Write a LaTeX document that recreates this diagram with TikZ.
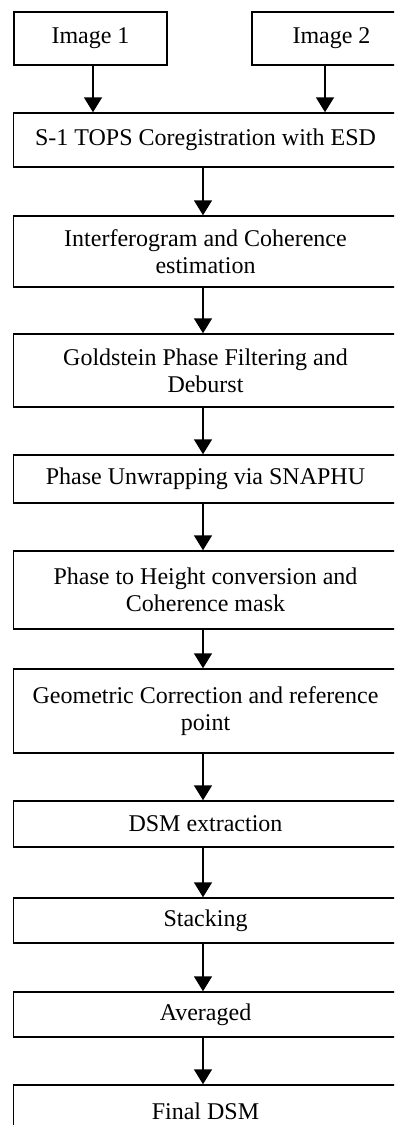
\documentclass[tikz,border=0pt]{standalone}
\usepackage{fontspec}
\setmainfont{Liberation Serif}
\usetikzlibrary{arrows.meta}
\begin{document}
\begin{tikzpicture}[x=1pt,y=-1pt,
  box/.style={draw=black,line width=1.5pt,rectangle,align=center,inner sep=0pt,
    font=\fontsize{24}{27}\selectfont},
  arr/.style={line width=1.7pt,-{Triangle[width=18pt,length=15pt]}}]
\useasboundingbox (0,0) rectangle (394,1125);
\clip (0,0) rectangle (394,1125);
\node[box,minimum width=153pt,minimum height=53pt] (img1) at (90.5,38.5) {Image 1};
\node[box,minimum width=159pt,minimum height=53pt] (img2) at (331.5,38.5) {Image 2};
\node[box,minimum width=384pt,minimum height=54pt] (s1) at (205.5,140) {S-1 TOPS Coregistration with ESD};
\node[box,minimum width=384pt,minimum height=71pt] (ifg) at (205.5,251.5) {Interferogram and Coherence\\estimation};
\node[box,minimum width=384pt,minimum height=73pt] (gold) at (205.5,370.5) {Goldstein Phase Filtering and\\Deburst};
\node[box,minimum width=384pt,minimum height=48pt] (unw) at (205.5,479) {Phase Unwrapping via SNAPHU};
\node[box,minimum width=384pt,minimum height=78pt] (p2h) at (205.5,590) {Phase to Height conversion and\\Coherence mask};
\node[box,minimum width=384pt,minimum height=84pt] (geo) at (205.5,711) {Geometric Correction and reference\\point};
\node[box,minimum width=384pt,minimum height=46pt] (dsm) at (205.5,824) {DSM extraction};
\node[box,minimum width=384pt,minimum height=45pt] (stk) at (205.5,920.5) {Stacking};
\node[box,minimum width=384pt,minimum height=45pt] (avg) at (205.5,1014.5) {Averaged};
\node[box,minimum width=384pt,minimum height=52pt] (fin) at (205.5,1111) {Final DSM};
\coordinate (ax) at (203,0);
\coordinate (a1) at (93,0);
\coordinate (a2) at (325,0);
\draw[arr] (img1.south -| a1) -- (s1.north -| a1);
\draw[arr] (img2.south -| a2) -- (s1.north -| a2);
\draw[arr] (s1.south -| ax) -- (ifg.north -| ax);
\draw[arr] (ifg.south -| ax) -- (gold.north -| ax);
\draw[arr] (gold.south -| ax) -- (unw.north -| ax);
\draw[arr] (unw.south -| ax) -- (p2h.north -| ax);
\draw[arr] (p2h.south -| ax) -- (geo.north -| ax);
\draw[arr] (geo.south -| ax) -- (dsm.north -| ax);
\draw[arr] (dsm.south -| ax) -- (stk.north -| ax);
\draw[arr] (stk.south -| ax) -- (avg.north -| ax);
\draw[arr] (avg.south -| ax) -- (fin.north -| ax);
\end{tikzpicture}
\end{document}
